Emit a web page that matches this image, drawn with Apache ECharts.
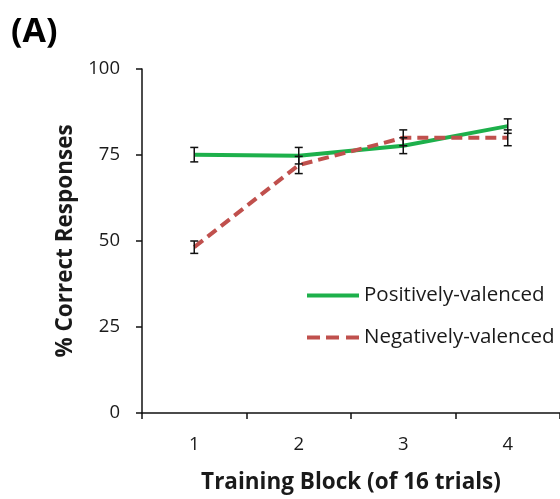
<!DOCTYPE html>
<html>
<head>
<meta charset="utf-8">
<script src="https://cdn.jsdelivr.net/npm/echarts@6/dist/echarts.min.js"></script>
<style>
  html, body { margin: 0; padding: 0; background: #fff; }
  #chart { width: 560px; height: 499px; }
</style>
</head>
<body>
<div id="chart"></div>
<script>
// Training blocks and mean % correct per valence condition
const blocks = ['1', '2', '3', '4'];
const positiveMeans = [75.1, 74.8, 77.7, 83.4];
const positiveErr = [2.1, 2.4, 2.3, 2.1];
const negativeMeans = [48.2, 72.1, 80.0, 80.0];
const negativeErr = [1.8, 2.5, 2.3, 2.3];
const yTicks = [0, 25, 50, 75, 100];

const FONT = '"Open Sans", sans-serif';

function errorData(means, errs) {
  return means.map((m, i) => [i, m - errs[i], m + errs[i]]);
}

function errorBarSeries(name, means, errs) {
  return {
    type: 'custom',
    name: name + ' SE',
    z: 5,
    silent: true,
    data: errorData(means, errs),
    renderItem: function (params, api) {
      const x = api.value(0);
      const lo = api.coord([x, api.value(1)]);
      const hi = api.coord([x, api.value(2)]);
      const half = 4;
      const style = { stroke: '#111', lineWidth: 1.5 };
      return {
        type: 'group',
        children: [
          { type: 'line', shape: { x1: lo[0], y1: lo[1], x2: hi[0], y2: hi[1] }, style: style },
          { type: 'line', shape: { x1: lo[0] - half, y1: lo[1], x2: lo[0] + half, y2: lo[1] }, style: style },
          { type: 'line', shape: { x1: hi[0] - half, y1: hi[1], x2: hi[0] + half, y2: hi[1] }, style: style }
        ]
      };
    }
  };
}

const chart = echarts.init(document.getElementById('chart'), null, { renderer: 'canvas' });

chart.setOption({
  animation: false,
  backgroundColor: '#fff',
  title: {
    text: '(A)',
    left: 6,
    top: 10,
    textStyle: { fontFamily: FONT, fontWeight: 'bold', fontSize: 34, color: '#000' }
  },
  grid: { left: 142, right: -2, top: 69, bottom: 84, containLabel: false },
  legend: {
    orient: 'vertical',
    left: 302,
    top: 280,
    itemGap: 21,
    itemWidth: 52,
    itemHeight: 24,
    textStyle: { fontFamily: FONT, fontSize: 20.5, color: '#1a1a1a', padding: [0, 0, 0, 0] },
    data: [
      { name: 'Positively-valenced', icon: 'path://M0,10 L52,10 L52,14 L0,14 Z' },
      { name: 'Negatively-valenced', icon: 'path://M0,10 L13,10 L13,14 L0,14 Z M19,10 L32,10 L32,14 L19,14 Z M39,10 L52,10 L52,14 L39,14 Z' }
    ]
  },
  xAxis: {
    type: 'category',
    data: blocks,
    boundaryGap: true,
    name: 'Training Block (of 16 trials)',
    nameLocation: 'middle',
    nameGap: 58,
    nameTextStyle: { fontFamily: FONT, fontWeight: 'bold', fontSize: 22.5, color: '#1a1a1a' },
    axisLine: { lineStyle: { color: '#111', width: 1.5 } },
    axisTick: { show: true, inside: false, length: 6, alignWithLabel: false, lineStyle: { color: '#111', width: 1.5 } },
    axisLabel: { fontFamily: FONT, fontSize: 18.5, color: '#1a1a1a', margin: 22 },
    splitLine: { show: false }
  },
  yAxis: {
    type: 'value',
    min: yTicks[0],
    max: yTicks[yTicks.length - 1],
    interval: 25,
    name: '% Correct Responses',
    nameLocation: 'middle',
    nameRotate: 90,
    nameGap: 65,
    nameTextStyle: { fontFamily: FONT, fontWeight: 'bold', fontSize: 22.5, color: '#1a1a1a' },
    axisLine: { show: true, lineStyle: { color: '#111', width: 1.5 } },
    axisTick: { show: true, inside: false, length: 6, lineStyle: { color: '#111', width: 1.5 } },
    axisLabel: { fontFamily: FONT, fontSize: 18.5, color: '#1a1a1a', margin: 22 },
    splitLine: { show: false }
  },
  series: [
    {
      name: 'Positively-valenced',
      type: 'line',
      data: positiveMeans,
      symbol: 'none',
      z: 3,
      lineStyle: { color: '#1db04b', width: 4 },
      itemStyle: { color: '#1db04b' }
    },
    {
      name: 'Negatively-valenced',
      type: 'line',
      data: negativeMeans,
      symbol: 'none',
      z: 4,
      lineStyle: { color: '#c0504d', width: 4, type: [11, 6] },
      itemStyle: { color: '#c0504d' }
    },
    errorBarSeries('Positively-valenced', positiveMeans, positiveErr),
    errorBarSeries('Negatively-valenced', negativeMeans, negativeErr)
  ]
});
</script>
</body>
</html>
